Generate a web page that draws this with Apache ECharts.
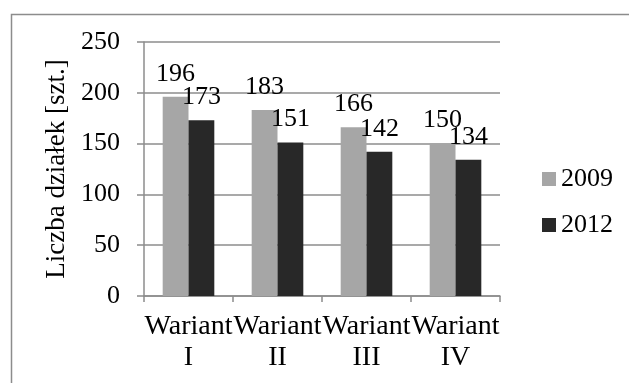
<!DOCTYPE html>
<html><head><meta charset="utf-8">
<script src="https://cdn.jsdelivr.net/npm/echarts@6/dist/echarts.min.js"></script>
<style>html,body{margin:0;padding:0;background:#fff}#c{width:629px;height:383px}</style>
</head><body><div id="c"></div>
<script>
const categories = ['Wariant\nI', 'Wariant\nII', 'Wariant\nIII', 'Wariant\nIV'];
const series2009 = [196, 183, 166, 150];
const series2012 = [173, 151, 142, 134];
const seriesNames = ['2009', '2012'];
const yTicks = {min: 0, max: 250, interval: 50};

const FONT = 'Liberation Serif';
const GRAY = '#8c8c8c';
const chart = echarts.init(document.getElementById('c'), null, {renderer: 'canvas'});
chart.setOption({
  animation: false,
  textStyle: {fontFamily: FONT, color: '#000'},
  graphic: [{
    type: 'rect', left: 9, top: 12, silent: true,
    shape: {x: 0, y: 0, width: 800, height: 600},
    style: {fill: 'none', stroke: GRAY, lineWidth: 1.5}
  }],
  grid: {left: 144, right: 129, top: 42, bottom: 87, containLabel: false},
  legend: {
    orient: 'vertical', left: 542, top: 166, padding: 0,
    itemWidth: 14, itemHeight: 14, itemGap: 20,
    icon: 'rect',
    textStyle: {fontFamily: FONT, fontSize: 26, color: '#000'},
    data: seriesNames
  },
  xAxis: {
    type: 'category', data: categories,
    axisLine: {show: true, lineStyle: {color: GRAY, width: 1.5}},
    axisTick: {show: true, alignWithLabel: false, length: 6, lineStyle: {color: GRAY, width: 1.5}},
    axisLabel: {interval: 0, hideOverlap: false, margin: 15, fontFamily: FONT, fontSize: 28, lineHeight: 31, color: '#000'}
  },
  yAxis: {
    type: 'value', min: yTicks.min, max: yTicks.max, interval: yTicks.interval,
    name: 'Liczba działek [szt.]', nameLocation: 'middle', nameGap: 73,
    nameTextStyle: {fontFamily: FONT, fontSize: 27, color: '#000'},
    axisLine: {show: true, lineStyle: {color: GRAY, width: 1.5}},
    axisTick: {show: true, inside: false, length: 7, lineStyle: {color: GRAY, width: 1.5}},
    splitLine: {show: true, lineStyle: {color: GRAY, width: 1.5}},
    axisLabel: {margin: 24, fontFamily: FONT, fontSize: 26, color: '#000'}
  },
  series: [
    {name: seriesNames[0], type: 'bar', data: series2009, barGap: '0%', barCategoryGap: '42%',
     itemStyle: {color: '#a6a6a6'},
     label: {show: true, position: 'top', distance: 10, fontFamily: FONT, fontSize: 26, color: '#000'}},
    {name: seriesNames[1], type: 'bar', data: series2012,
     itemStyle: {color: '#282828'},
     label: {show: true, position: 'top', distance: 10, fontFamily: FONT, fontSize: 26, color: '#000'}}
  ]
});
</script></body></html>
